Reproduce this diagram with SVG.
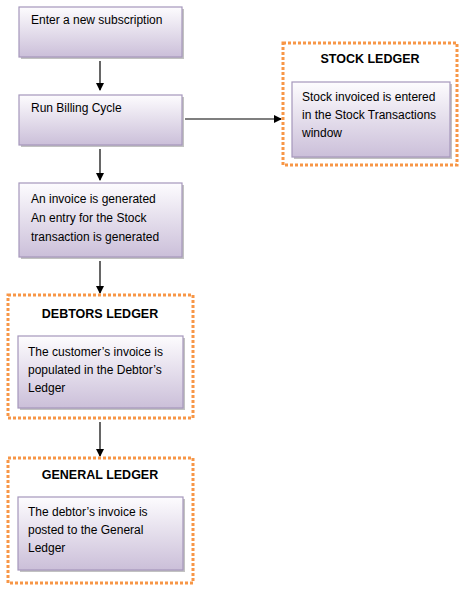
<svg xmlns="http://www.w3.org/2000/svg" width="464" height="589" viewBox="0 0 464 589">
<defs>
<linearGradient id="g" x1="0" y1="0" x2="0" y2="1">
<stop offset="0" stop-color="#fdfcfe"/>
<stop offset="1" stop-color="#cbbfd9"/>
</linearGradient>
<marker id="ah" markerWidth="8" markerHeight="8" refX="7" refY="4" orient="auto" markerUnits="userSpaceOnUse">
<path d="M0,0 L8,4 L0,8 Z" fill="#000"/>
</marker>
<style>
.box{fill:url(#g);stroke:#a597bb;stroke-width:1.2}
.sh{fill:#9a9a9a;opacity:0.6}
.ledger{fill:#fff;stroke:#f79646;stroke-width:3;stroke-dasharray:3 2}
.t{font-family:"Liberation Sans",Arial,sans-serif;font-size:12px;fill:#000}
.h{font-family:"Liberation Sans",Arial,sans-serif;font-size:12.5px;font-weight:bold;fill:#000;text-anchor:middle}
.c{stroke:#000;stroke-width:1.2;fill:none}
</style>
</defs>
<rect width="464" height="589" fill="#fff"/>
<g id="connectors">
<line class="c" x1="100" y1="61" x2="100" y2="90" marker-end="url(#ah)"/>
<line class="c" x1="185" y1="119" x2="281" y2="119" marker-end="url(#ah)"/>
<line class="c" x1="100" y1="149" x2="100" y2="180" marker-end="url(#ah)"/>
<line class="c" x1="100" y1="261" x2="100" y2="293" marker-end="url(#ah)"/>
<line class="c" x1="100" y1="422" x2="100" y2="456" marker-end="url(#ah)"/>
</g>
<g id="n1">
<rect class="sh" x="21" y="9" width="163" height="50"/>
<rect class="box" x="19" y="7" width="163" height="50"/>
<text class="t" x="31" y="24">Enter a new subscription</text>
</g>
<g id="n2">
<rect class="sh" x="21" y="97" width="163" height="50"/>
<rect class="box" x="19" y="95" width="163" height="50"/>
<text class="t" x="31" y="112">Run Billing Cycle</text>
</g>
<g id="n3">
<rect class="sh" x="21" y="185" width="163" height="74"/>
<rect class="box" x="19" y="183" width="163" height="74"/>
<text class="t" x="31" y="203">An invoice is generated</text>
<text class="t" x="31" y="222">An entry for the Stock</text>
<text class="t" x="31" y="241">transaction is generated</text>
</g>
<g id="stock-ledger">
<rect class="ledger" x="283" y="43" width="174" height="122"/>
<text class="h" x="370" y="63">STOCK LEDGER</text>
<rect class="sh" x="294" y="84" width="158" height="75"/>
<rect class="box" x="292" y="82" width="158" height="75"/>
<text class="t" x="302" y="101">Stock invoiced is entered</text>
<text class="t" x="302" y="119">in the Stock Transactions</text>
<text class="t" x="302" y="137">window</text>
</g>
<g id="debtors-ledger">
<rect class="ledger" x="8" y="295" width="185" height="123"/>
<text class="h" x="100" y="318">DEBTORS LEDGER</text>
<rect class="sh" x="20" y="338" width="165" height="72"/>
<rect class="box" x="18" y="336" width="165" height="72"/>
<text class="t" x="28" y="356">The customer’s invoice is</text>
<text class="t" x="28" y="374">populated in the Debtor’s</text>
<text class="t" x="28" y="392">Ledger</text>
</g>
<g id="general-ledger">
<rect class="ledger" x="8" y="458" width="185" height="125"/>
<text class="h" x="100" y="479">GENERAL LEDGER</text>
<rect class="sh" x="20" y="499" width="165" height="73"/>
<rect class="box" x="18" y="497" width="165" height="73"/>
<text class="t" x="28" y="516">The debtor’s invoice is</text>
<text class="t" x="28" y="534">posted to the General</text>
<text class="t" x="28" y="552">Ledger</text>
</g>
</svg>
